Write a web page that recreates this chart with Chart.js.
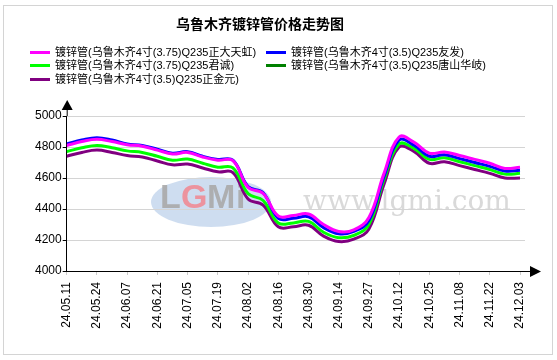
<!DOCTYPE html>
<html>
<head>
<meta charset="utf-8">
<script src="https://cdn.jsdelivr.net/npm/chart.js@4"></script>
<style>
  body { margin: 0; background: #fff; font-family: Arial, "Liberation Sans", "Noto Sans CJK SC", sans-serif; }
  #wrap { position: relative; width: 557px; height: 360px; overflow: hidden; }
  #frame { position: absolute; left: 3px; top: 5px; width: 548px; height: 348px; border: 1px solid #d4d4d4; }
  #title { position: absolute; left: 0; width: 520px; top: 13px; text-align: center; font-weight: bold; font-size: 14px; color: #000; }
  .lg { position: absolute; font-size: 11px; line-height: 13px; color: #000; white-space: nowrap; }
  .lg i { display: inline-block; width: 20px; height: 3px; vertical-align: middle; margin-right: 5px; position: relative; top: -1px; }
  canvas { position: absolute; left: 0; top: 0; }
</style>
</head>
<body>
<div id="wrap">
  <div id="frame"></div>
  <canvas id="priceChart" width="557" height="360"></canvas>
  <div id="title">乌鲁木齐镀锌管价格走势图</div>
  <div id="legend"></div>
</div>
<script>
// dates (every other one shown on the axis)
const dates = ['24.05.11', '24.05.17', '24.05.24', '24.05.31', '24.06.07', '24.06.14', '24.06.21', '24.06.28',
  '24.07.05', '24.07.12', '24.07.19', '24.07.26', '24.08.02', '24.08.09', '24.08.16', '24.08.23',
  '24.08.30', '24.09.06', '24.09.14', '24.09.20', '24.09.27', '24.10.05', '24.10.12', '24.10.18',
  '24.10.25', '24.11.01', '24.11.08', '24.11.15', '24.11.22', '24.11.28', '24.12.03'];

const seriesNames = [
  '镀锌管(乌鲁木齐4寸(3.75)Q235正大天虹)',
  '镀锌管(乌鲁木齐4寸(3.5)Q235友发)',
  '镀锌管(乌鲁木齐4寸(3.75)Q235君诚)',
  '镀锌管(乌鲁木齐4寸(3.5)Q235唐山华岐)',
  '镀锌管(乌鲁木齐4寸(3.5)Q235正金元)'
];
const seriesColors = ['#ff00ff', '#0000ff', '#00ff00', '#008000', '#800080'];

const zhengda = [4810, 4835, 4850, 4835, 4815, 4805, 4780, 4755, 4765, 4735, 4715, 4712, 4540, 4500, 4355, 4358,
  4368, 4300, 4255, 4265, 4345, 4630, 4865, 4830, 4760, 4768, 4745, 4720, 4695, 4662, 4670];
const youfa = [4820, 4845, 4860, 4845, 4820, 4810, 4785, 4760, 4770, 4740, 4720, 4715, 4545, 4505, 4340, 4340,
  4350, 4280, 4240, 4255, 4325, 4610, 4845, 4810, 4740, 4750, 4725, 4700, 4675, 4645, 4650];
const juncheng = [4770, 4795, 4810, 4795, 4775, 4765, 4740, 4715, 4722, 4695, 4670, 4665, 4500, 4455, 4310, 4310,
  4320, 4250, 4215, 4230, 4300, 4590, 4820, 4790, 4720, 4730, 4705, 4680, 4655, 4625, 4630];
const huaqi = []; // no line visible in the picture
const zhengjin = [4740, 4765, 4780, 4765, 4745, 4735, 4710, 4685, 4690, 4665, 4640, 4635, 4465, 4425, 4285, 4285,
  4295, 4225, 4190, 4205, 4270, 4560, 4800, 4770, 4695, 4705, 4680, 4655, 4630, 4600, 4600];

const yTicks = [4000, 4200, 4400, 4600, 4800, 5000];
const allSeries = [zhengda, youfa, juncheng, huaqi, zhengjin];

// legend in two columns
const legendPos = [[30, 46], [266, 46], [30, 59], [266, 59], [30, 73]];
const legendBox = document.getElementById('legend');
seriesNames.forEach((name, i) => {
  const d = document.createElement('div');
  d.className = 'lg';
  d.style.left = legendPos[i][0] + 'px';
  d.style.top = legendPos[i][1] + 'px';
  d.innerHTML = '<i style="background:' + seriesColors[i] + '"></i>' + name;
  legendBox.appendChild(d);
});

// watermark + axis arrows
const decor = {
  id: 'decor',
  beforeDraw(chart) {
    const ctx = chart.ctx;
    ctx.save();
    ctx.fillStyle = 'rgba(190,210,235,0.75)';
    ctx.beginPath();
    ctx.ellipse(211, 202, 60, 25, 0, 0, Math.PI * 2);
    ctx.fill();
    ctx.font = 'bold 34px Arial';
    ctx.textBaseline = 'alphabetic';
    ctx.fillStyle = 'rgba(170,170,170,0.9)';
    ctx.fillText('L', 160, 208);
    ctx.fillStyle = 'rgba(240,140,150,0.9)';
    ctx.fillText('G', 181, 208);
    ctx.fillStyle = 'rgba(170,170,170,0.9)';
    ctx.fillText('M', 207, 208);
    ctx.fillText('i', 236, 208);
    ctx.font = '28px "DejaVu Serif", "Liberation Serif", serif';
    ctx.fillStyle = 'rgba(170,170,170,0.45)';
    ctx.fillText('www.lgmi.com', 303, 210);
    ctx.restore();
  },
  afterDraw(chart) {
    const { ctx, chartArea } = chart;
    const l = chartArea.left, b = chartArea.bottom;
    ctx.save();
    ctx.strokeStyle = '#000';
    ctx.fillStyle = '#000';
    ctx.lineWidth = 1;
    ctx.beginPath();
    ctx.moveTo(l + 0.5, chartArea.top);
    ctx.lineTo(l + 0.5, 108);
    ctx.moveTo(chartArea.right, b + 0.5);
    ctx.lineTo(532, b + 0.5);
    ctx.stroke();
    ctx.beginPath();
    ctx.moveTo(l + 0.5, 100);
    ctx.lineTo(l - 5, 110);
    ctx.lineTo(l + 6, 110);
    ctx.closePath();
    ctx.fill();
    ctx.beginPath();
    ctx.moveTo(541, b + 0.5);
    ctx.lineTo(530, b - 5);
    ctx.lineTo(530, b + 6);
    ctx.closePath();
    ctx.fill();
    ctx.restore();
  }
};

new Chart(document.getElementById('priceChart'), {
  type: 'line',
  data: {
    datasets: allSeries.map((vals, i) => ({
      label: seriesNames[i],
      data: vals.map((v, k) => ({ x: k, y: v })),
      borderColor: seriesColors[i],
      backgroundColor: seriesColors[i],
      borderWidth: 3,
      pointRadius: 0,
      tension: 0.4,
      fill: false
    }))
  },
  options: {
    responsive: false,
    animation: false,
    layout: { padding: { top: 116, left: 34, right: 32, bottom: 29 } },
    plugins: {
      legend: { display: false },
      title: { display: false },
      tooltip: { enabled: false }
    },
    scales: {
      x: {
        type: 'linear',
        min: 0,
        max: 30.33,
        afterBuildTicks: (axis) => {
          axis.ticks = dates.map((d, i) => ({ value: i })).filter(t => t.value % 2 === 0);
        },
        afterFit: (axis) => { axis.height = 60; },
        ticks: {
          autoSkip: false,
          minRotation: 90,
          maxRotation: 90,
          padding: 7,
          color: '#000',
          font: { family: 'Arial', size: 12 },
          callback: (v) => dates[v]
        },
        grid: { drawOnChartArea: false, tickLength: 4, tickColor: '#ccc' },
        border: { color: '#000', width: 1 }
      },
      y: {
        min: 4000,
        max: 5000,
        afterBuildTicks: (axis) => {
          axis.ticks = yTicks.map(v => ({ value: v }));
        },
        ticks: {
          padding: 1,
          color: '#000',
          font: { family: 'Arial', size: 12 },
          callback: (v) => String(v)
        },
        grid: { color: '#d4d4d4', tickLength: 4, tickColor: '#000' },
        border: { color: '#000', width: 1 }
      }
    }
  },
  plugins: [decor]
});
</script>
</body>
</html>
